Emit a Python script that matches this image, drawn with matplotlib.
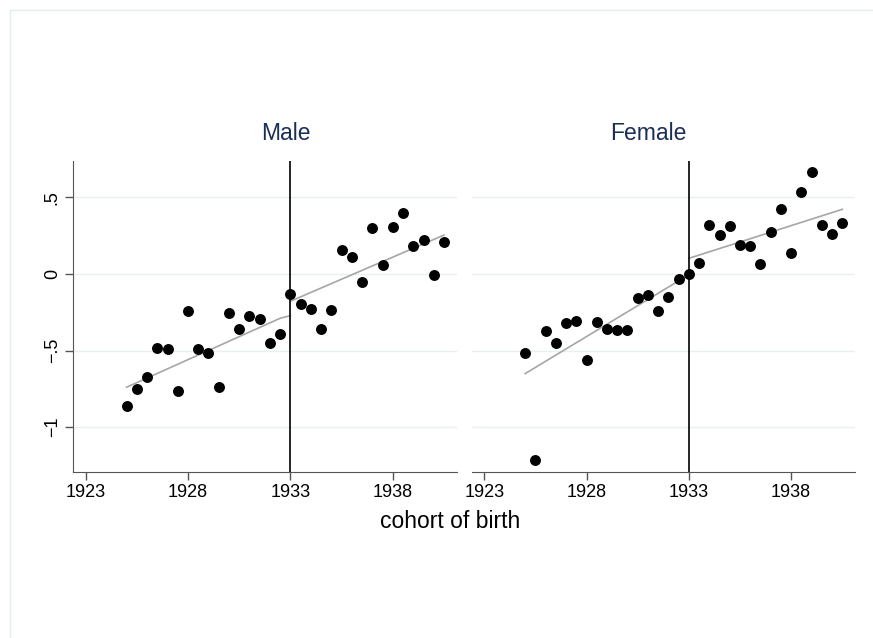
import matplotlib.pyplot as plt
from matplotlib.patches import Rectangle

plt.rcParams['font.family'] = ['Liberation Sans', 'DejaVu Sans']

cohort = [1925 + 0.5 * i for i in range(32)]

male = [-0.861, -0.750, -0.674, -0.483, -0.489, -0.763, -0.239, -0.489,
        -0.517, -0.739, -0.257, -0.357, -0.276, -0.293, -0.448, -0.391,
        -0.130, -0.196, -0.226, -0.359, -0.233, 0.154, 0.113, -0.052,
        0.298, 0.061, 0.309, 0.400, 0.180, 0.222, -0.004, 0.207]

female = [-0.515, -1.211, -0.374, -0.448, -0.320, -0.307, -0.559, -0.311,
          -0.359, -0.365, -0.367, -0.154, -0.137, -0.243, -0.148, -0.035,
          0.002, 0.074, 0.317, 0.254, 0.311, 0.191, 0.180, 0.065,
          0.272, 0.422, 0.139, 0.533, 0.663, 0.320, 0.259, 0.335]

# fitted lines, left and right of the 1933 cutoff
male_fit_left_x = [1925, 1932.5, 1933]
male_fit_left_y = [-0.739, -0.289, -0.272]
male_fit_right_x = [1933, 1940.5]
male_fit_right_y = [-0.178, 0.254]

female_fit_left_x = [1925, 1933]
female_fit_left_y = [-0.650, -0.005]
female_fit_right_x = [1933, 1940.5]
female_fit_right_y = [0.102, 0.422]

cutoff = 1933
xticks = [1923, 1928, 1933, 1938]
yticks = [-1, -0.5, 0, 0.5]
ytick_labels = ['\u22121', '\u2212.5', '0', '.5']

W, H = 873, 638
fig = plt.figure(figsize=(W / 100, H / 100), dpi=100)

# faint outer graph-region outline
fig.patches.append(Rectangle((10 / W, -0.1), 1.2, 1.1 - 10 / H, transform=fig.transFigure,
                             fill=False, edgecolor='#e4eeee', linewidth=1))

panels = [
    ('Male', male, male_fit_left_x, male_fit_left_y, male_fit_right_x, male_fit_right_y,
     73.3, 456.7, 285.5),
    ('Female', female, female_fit_left_x, female_fit_left_y, female_fit_right_x,
     female_fit_right_y, 472, 855, 648),
]

top, bottom = 161, 471.7
for i, (name, vals, flx, fly, frx, fry, x0, x1, tx) in enumerate(panels):
    ax = fig.add_axes([x0 / W, 1 - bottom / H, (x1 - x0) / W, (bottom - top) / H])
    ax.set_xlim(1922.4, 1941.12)
    ax.set_ylim(-1.29, 0.737)
    for y in yticks:
        ax.axhline(y, color='#e8f0f3', linewidth=1, zorder=0)
    ax.plot(flx, fly, color='#a6a6a6', linewidth=1.2, zorder=2)
    ax.plot(frx, fry, color='#a6a6a6', linewidth=1.2, zorder=2)
    ax.scatter(cohort, vals, s=62, color='black', zorder=3, linewidths=0)
    ax.axvline(cutoff, color='black', linewidth=1.2, zorder=2)

    ax.spines['top'].set_visible(False)
    ax.spines['right'].set_visible(False)
    ax.spines['bottom'].set_color('#555555')
    ax.spines['left'].set_color('#555555')
    ax.set_xticks(xticks)
    ax.set_xticklabels([str(t) for t in xticks], fontsize=13)
    ax.tick_params(axis='both', length=6, width=1, color='#555555', pad=3)
    ax.set_yticks(yticks)
    if i == 0:
        ax.set_yticklabels(ytick_labels, fontsize=13, rotation=90, va='center')
    else:
        ax.spines['left'].set_visible(False)
        ax.tick_params(axis='y', left=False, labelleft=False)
    fig.text(tx / W, 1 - 133 / H, name, ha='center', va='center', fontsize=16.5,
             color='#1c2e58')

fig.text(450 / W, 1 - 522 / H, 'cohort of birth', ha='center', va='center', fontsize=16.5)

fig.savefig('out.png', dpi=100, facecolor='white')
plt.close(fig)
